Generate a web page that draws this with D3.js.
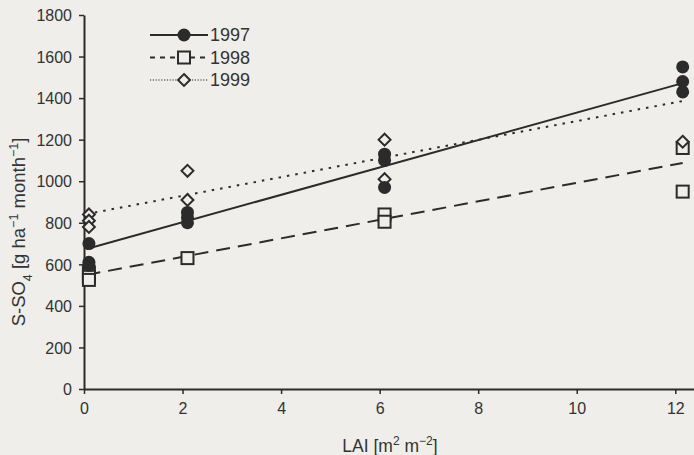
<!DOCTYPE html>
<html>
<head>
<meta charset="utf-8">
<script src="https://cdn.jsdelivr.net/npm/d3@7"></script>
<style>
  body { margin: 0; background: #efeeea; }
  svg { display: block; font-family: Arial, 'Liberation Sans', sans-serif; }
</style>
</head>
<body>
<svg id="chart" width="694" height="455"></svg>
<script>
const years = ['1997', '1998', '1999']
const lai1997 = [0.1, 0.1, 0.1, 2.1, 2.1, 2.1, 6.1, 6.1, 6.1, 12.15, 12.15, 12.15]
const so4_1997 = [700, 610, 595, 850, 825, 800, 1130, 1100, 970, 1550, 1480, 1430]
const lai1998 = [0.1, 0.1, 0.1, 2.1, 6.1, 6.1, 12.15, 12.15]
const so4_1998 = [560, 540, 525, 630, 840, 805, 1160, 950]
const lai1999 = [0.1, 0.1, 0.1, 2.1, 2.1, 6.1, 6.1, 12.15]
const so4_1999 = [840, 810, 780, 1050, 910, 1200, 1010, 1190]
// fitted lines, end points
const fitX = [0.05, 12.15]
const fit1997 = [674, 1472]
const fit1998 = [549, 1088]
const fit1999 = [842, 1386]
const xTicks = [0, 2, 4, 6, 8, 10, 12]
const yTicks = [0, 200, 400, 600, 800, 1000, 1200, 1400, 1600, 1800]

const ink = '#2b2b2b'
const svg = d3.select('#chart')

const x = d3.scaleLinear([0, 12.4], [84, 695])
const y = d3.scaleLinear([0, 1800], [389, 15])

const xAxis = svg.append('g')
  .attr('transform', `translate(0, ${y(0)})`)
  .call(d3.axisBottom(x).tickValues(xTicks).tickFormat(d3.format('d'))
    .tickSize(5).tickPadding(6).tickSizeOuter(0))
const yAxis = svg.append('g')
  .attr('transform', `translate(${x(0)}, 0)`)
  .call(d3.axisLeft(y).tickValues(yTicks).tickFormat(d3.format('d'))
    .tickSize(5).tickPadding(7).tickSizeOuter(0))

for (const ax of [xAxis, yAxis]) {
  ax.select('.domain').attr('stroke', ink).attr('stroke-width', 2)
  ax.selectAll('.tick line').attr('stroke', ink).attr('stroke-width', 1.5)
  ax.selectAll('.tick text').attr('fill', '#333').style('font-size', '16px')
}
xAxis.selectAll('.tick text').attr('dy', '0.9em')
yAxis.selectAll('.tick text').attr('dy', '0.36em')

// axis titles
const xt = svg.append('text')
  .attr('x', 390).attr('y', 452)
  .attr('text-anchor', 'middle')
  .attr('fill', '#333')
  .style('font-size', '17.5px')
xt.append('tspan').text('LAI [m')
xt.append('tspan').attr('baseline-shift', 'super').style('font-size', '12px').text('2')
xt.append('tspan').text(' m')
xt.append('tspan').attr('baseline-shift', 'super').style('font-size', '12px').text('−2')
xt.append('tspan').text(']')

const yt = svg.append('text')
  .attr('transform', 'translate(25, 232) rotate(-90)')
  .attr('text-anchor', 'middle')
  .attr('fill', '#333')
  .style('font-size', '18.5px')
yt.append('tspan').text('S-SO')
yt.append('tspan').attr('baseline-shift', 'sub').style('font-size', '12.5px').text('4')
yt.append('tspan').text(' [g ha')
yt.append('tspan').attr('baseline-shift', 'super').style('font-size', '12.5px').text('−1')
yt.append('tspan').text(' month')
yt.append('tspan').attr('baseline-shift', 'super').style('font-size', '12.5px').text('−1')
yt.append('tspan').text(']')

const dashes = ['none', '14 8', '2.5 6']
const fits = [fit1997, fit1998, fit1999]
const line = d3.line().x(d => x(d[0])).y(d => y(d[1]))

fits.forEach((f, i) => {
  svg.append('path')
    .datum(fitX.map((v, k) => [v, f[k]]))
    .attr('d', line)
    .attr('fill', 'none')
    .attr('stroke', ink)
    .attr('stroke-width', 2)
    .attr('stroke-dasharray', dashes[i])
})

function marker(g, kind) {
  if (kind === 0) {
    g.append('circle').attr('r', 6.5).attr('fill', ink)
  } else if (kind === 1) {
    g.append('rect').attr('x', -6).attr('y', -6).attr('width', 12).attr('height', 12)
      .attr('fill', '#efeeea').attr('stroke', ink).attr('stroke-width', 2)
  } else {
    g.append('path').attr('d', d3.symbol(d3.symbolDiamond2, 90)())
      .attr('fill', '#efeeea').attr('stroke', ink).attr('stroke-width', 2)
  }
}

const series = [
  [lai1998, so4_1998, 1],
  [lai1999, so4_1999, 2],
  [lai1997, so4_1997, 0]
]
series.forEach(([xs, ys, kind]) => {
  xs.forEach((v, i) => {
    const g = svg.append('g').attr('transform', `translate(${x(v)}, ${y(ys[i])})`)
    marker(g, kind)
  })
})

// legend
const legend = svg.append('g').attr('transform', 'translate(150, 35)')
years.forEach((yr, i) => {
  const row = legend.append('g').attr('transform', `translate(0, ${i * 22.5})`)
  row.append('line')
    .attr('x1', 0).attr('x2', 58)
    .attr('stroke', ink)
    .attr('stroke-width', i === 2 ? 1.2 : 2)
    .attr('stroke-dasharray', i === 0 ? 'none' : i === 1 ? '5 5' : '1.2 1.6')
  const g = row.append('g').attr('transform', 'translate(34, 0)')
  marker(g, i)
  row.append('text')
    .attr('x', 60).attr('dy', '0.36em')
    .attr('fill', '#333')
    .style('font-size', '18px')
    .text(yr)
})
</script>
</body>
</html>
